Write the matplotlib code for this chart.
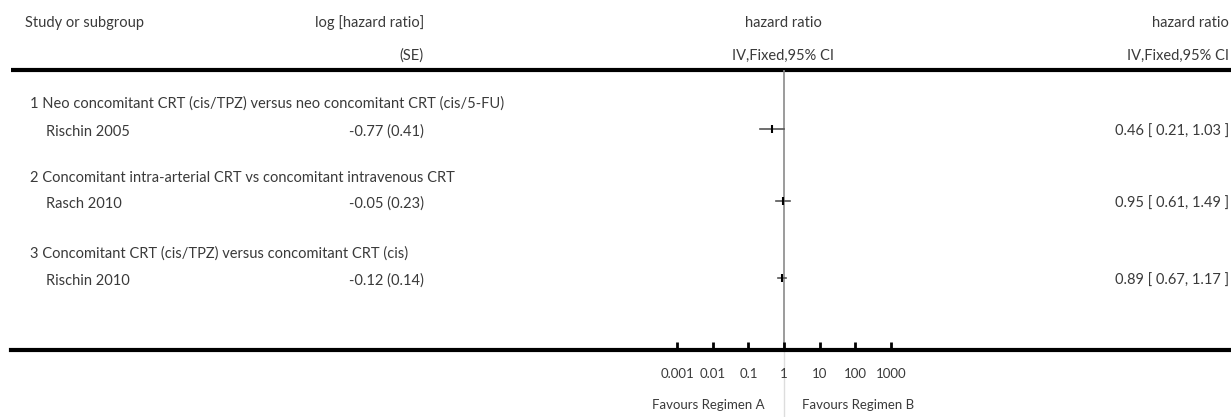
import matplotlib.pyplot as plt
import numpy as np

plt.rcParams['font.family'] = ['Lato', 'DejaVu Sans']

# data
groups = ["1 Neo concomitant CRT (cis/TPZ) versus neo concomitant CRT (cis/5-FU)",
          "2 Concomitant intra-arterial CRT vs concomitant intravenous CRT",
          "3 Concomitant CRT (cis/TPZ) versus concomitant CRT (cis)"]
studies = ["Rischin 2005", "Rasch 2010", "Rischin 2010"]
log_hr = [-0.77, -0.05, -0.12]
se = [0.41, 0.23, 0.14]
hr = [0.46, 0.95, 0.89]
ci_low = [0.21, 0.61, 0.67]
ci_high = [1.03, 1.49, 1.17]
tick_vals = [0.001, 0.01, 0.1, 1, 10, 100, 1000]
tick_labels = ["0.001", "0.01", "0.1", "1", "10", "100", "1000"]

W, H = 1231, 417
txt = "#3a3a3a"
fs = 10.5

fig = plt.figure(figsize=(W / 100, H / 100), dpi=100)

# background axes in pixel coordinates, for text and rules
bg = fig.add_axes([0, 0, 1, 1])
bg.set_xlim(0, W)
bg.set_ylim(H, 0)
bg.axis("off")

# forest axes: 1 at x=784 px, 35.6 px per decade
x0, x1 = 11, W
y_top, y_bot = 70, 350
px_dec, x_one = 35.6, 784
fa = fig.add_axes([x0 / W, (H - y_bot) / H, (x1 - x0) / W, (y_bot - y_top) / H])
fa.patch.set_alpha(0)
fa.set_xscale("log")
fa.set_xlim(10 ** ((x0 - x_one) / px_dec), 10 ** ((x1 - x_one) / px_dec))
fa.set_ylim(y_bot, y_top)
for s in ["top", "left", "right"]:
    fa.spines[s].set_visible(False)
fa.spines["bottom"].set_linewidth(3)
fa.set_yticks([])
fa.set_xticks(tick_vals)
fa.set_xticklabels(tick_labels)
fa.minorticks_off()
fa.tick_params(axis="x", direction="in", length=6, width=2, pad=13,
               labelsize=9.5, labelcolor=txt)

# header
bg.text(25, 23, "Study or subgroup", fontsize=fs, color=txt, va="center")
bg.text(424, 23, "log [hazard ratio]", fontsize=fs, color=txt, va="center", ha="right")
bg.text(424, 56, "(SE)", fontsize=fs, color=txt, va="center", ha="right")
bg.text(783, 23, "hazard ratio", fontsize=fs, color=txt, va="center", ha="center")
bg.text(783, 56, "IV,Fixed,95% CI", fontsize=fs, color=txt, va="center", ha="center")
bg.text(1229, 23, "hazard ratio", fontsize=fs, color=txt, va="center", ha="right")
bg.text(1229, 56, "IV,Fixed,95% CI", fontsize=fs, color=txt, va="center", ha="right")
bg.plot([x0, W], [70, 70], color="black", lw=3, solid_capstyle="butt")

# faint continuation of the null line below the axis
bg.plot([x_one, x_one], [352, H], color="#dddddd", lw=1)

group_y = [104, 178, 254]
study_y = [132, 204, 281]

fa.axvline(1, color="#8a8a8a", lw=1.2, zorder=1)

for i in range(len(studies)):
    bg.text(30, group_y[i], groups[i], fontsize=fs, color=txt, va="center")
    bg.text(46, study_y[i], studies[i], fontsize=fs, color=txt, va="center")
    bg.text(424, study_y[i], f"{log_hr[i]:.2f} ({se[i]:.2f})", fontsize=fs,
            color=txt, va="center", ha="right")
    bg.text(1229, study_y[i], f"{hr[i]:.2f} [ {ci_low[i]:.2f}, {ci_high[i]:.2f} ]",
            fontsize=fs, color=txt, va="center", ha="right")
    fa.plot([ci_low[i], ci_high[i]], [study_y[i] - 3, study_y[i] - 3],
            color="#555555", lw=1.2, zorder=2)
    fa.plot([hr[i]], [study_y[i] - 3], marker="|", ms=6, mew=1.5,
            color="black", zorder=3)

bg.text(765, 405, "Favours Regimen A", fontsize=9.5, color=txt, va="center", ha="right")
bg.text(802, 405, "Favours Regimen B", fontsize=9.5, color=txt, va="center", ha="left")

fig.savefig("out.png", dpi=100)
